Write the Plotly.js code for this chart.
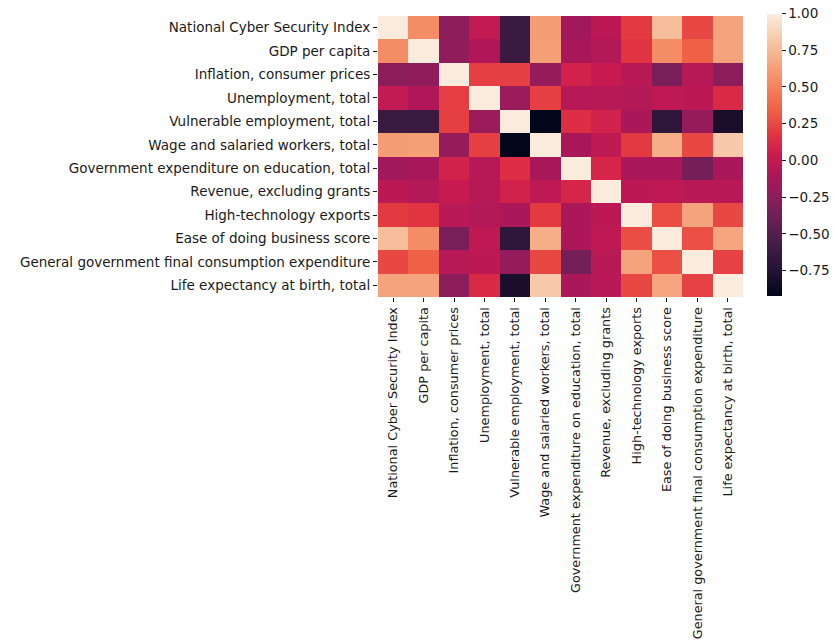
<!DOCTYPE html>
<html>
<head>
<meta charset="utf-8">
<script src="https://cdn.plot.ly/plotly-3.0.1.min.js"></script>
<style>html,body{margin:0;padding:0;background:#fff;}#chart{width:834px;height:643px;}</style>
</head>
<body>
<div id="chart"></div>
<script>
const labels = [
  "National Cyber Security Index",
  "GDP per capita",
  "Inflation, consumer prices",
  "Unemployment, total",
  "Vulnerable employment, total",
  "Wage and salaried workers, total",
  "Government expenditure on education, total",
  "Revenue, excluding grants",
  "High-technology exports",
  "Ease of doing business score",
  "General government final consumption expenditure",
  "Life expectancy at birth, total"
];

const rowNCSI      = [1.00, 0.55, -0.25, 0.00, -0.62, 0.62, -0.15, -0.03, 0.20, 0.77, 0.25, 0.65];
const rowGDP       = [0.55, 1.00, -0.22, -0.08, -0.62, 0.63, -0.12, -0.07, 0.18, 0.55, 0.35, 0.65];
const rowInflation = [-0.25, -0.22, 1.00, 0.22, 0.22, -0.20, 0.08, 0.02, -0.04, -0.33, -0.05, -0.25];
const rowUnemploy  = [0.00, -0.08, 0.22, 1.00, -0.18, 0.22, -0.05, -0.05, -0.07, -0.02, -0.03, 0.12];
const rowVulnerab  = [-0.62, -0.62, 0.22, -0.18, 1.00, -0.92, 0.15, 0.08, -0.10, -0.68, -0.20, -0.80];
const rowWage      = [0.62, 0.63, -0.20, 0.22, -0.92, 1.00, -0.12, -0.02, 0.20, 0.70, 0.25, 0.82];
const rowGovEdu    = [-0.15, -0.12, 0.08, -0.05, 0.15, -0.12, 1.00, 0.10, -0.10, -0.10, -0.35, -0.11];
const rowRevenue   = [-0.03, -0.07, 0.02, -0.05, 0.08, -0.02, 0.10, 1.00, -0.03, -0.02, -0.04, -0.04];
const rowHighTech  = [0.20, 0.18, -0.04, -0.07, -0.10, 0.20, -0.10, -0.03, 1.00, 0.27, 0.65, 0.25];
const rowEase      = [0.77, 0.55, -0.33, -0.02, -0.68, 0.70, -0.10, -0.02, 0.27, 1.00, 0.28, 0.66];
const rowGovCons   = [0.25, 0.35, -0.05, -0.03, -0.20, 0.25, -0.35, -0.04, 0.65, 0.28, 1.00, 0.23];
const rowLife      = [0.65, 0.65, -0.25, 0.12, -0.80, 0.82, -0.11, -0.04, 0.25, 0.66, 0.23, 1.00];

const zRows = [rowNCSI, rowGDP, rowInflation, rowUnemploy, rowVulnerab, rowWage,
               rowGovEdu, rowRevenue, rowHighTech, rowEase, rowGovCons, rowLife];

const rocket = [
  [0.0, "#03051a"],
  [0.071, "#1c1030"],
  [0.143, "#35193e"],
  [0.214, "#521e4d"],
  [0.286, "#701f57"],
  [0.357, "#8e1d5b"],
  [0.429, "#ad1759"],
  [0.5, "#cb1b4f"],
  [0.571, "#e13342"],
  [0.643, "#ed5a44"],
  [0.714, "#f37651"],
  [0.786, "#f5966d"],
  [0.857, "#f6b48f"],
  [0.929, "#f7d1b5"],
  [1.0, "#faebdd"]
];

const yfont = {family: "DejaVu Sans, sans-serif", size: 13.5, color: "#1a1a1a"};
const xfont = {family: "DejaVu Sans, sans-serif", size: 12.8, color: "#1a1a1a"};

const trace = {
  type: "heatmap",
  z: zRows,
  x: labels,
  y: labels,
  colorscale: rocket,
  zmin: -0.92,
  zmax: 1,
  xgap: 0, ygap: 0,
  hoverinfo: "x+y+z",
  colorbar: {
    xref: "container", x: 767 / 834, xanchor: "left", xpad: 0,
    yref: "container", y: 1 - 31 / 643, yanchor: "top", ypad: 0,
    len: 282, lenmode: "pixels",
    thickness: 15,
    outlinewidth: 0,
    tickmode: "linear", tick0: 0, dtick: 0.25,
    tickformat: ".2f",
    ticks: "outside", ticklen: 4, tickwidth: 1, tickcolor: "#1a1a1a",
    tickfont: yfont
  }
};

const layout = {
  width: 834, height: 643,
  margin: {l: 378, r: 91, t: 16, b: 346},
  paper_bgcolor: "#ffffff",
  plot_bgcolor: "#ffffff",
  font: yfont,
  xaxis: {
    type: "category",
    tickangle: -90,
    ticks: "outside", ticklen: 4, tickwidth: 1, tickcolor: "#1a1a1a",
    showgrid: false, zeroline: false, showline: false,
    tickfont: xfont
  },
  yaxis: {
    type: "category",
    autorange: "reversed",
    ticks: "outside", ticklen: 4, tickwidth: 1, tickcolor: "#1a1a1a",
    showgrid: false, zeroline: false, showline: false,
    tickfont: yfont
  }
};

Plotly.newPlot("chart", [trace], layout, {displayModeBar: false, staticPlot: true});
</script>
</body>
</html>
